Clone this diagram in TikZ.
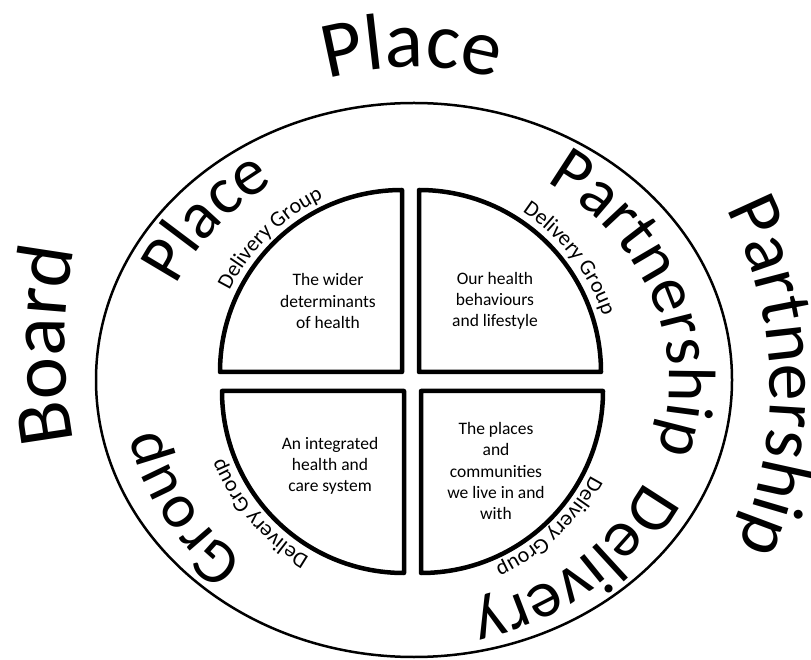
\documentclass[tikz,border=0pt]{standalone}
\usepackage{fontspec}
\setmainfont{Carlito}
\usetikzlibrary{decorations.text}
\newcommand\outerfont{\fontsize{80}{96}\selectfont}
\newcommand\innerfont{\fontsize{67}{80}\selectfont}
\newcommand\smallfont{\fontsize{22}{26}\selectfont}
\newcommand\quadfont{\fontsize{17.5}{21.3}\selectfont}
\tikzset{
  quadline/.style={draw, line width=4.5pt, line join=round},
  rim/.style={draw, line width=2.5pt},
  quadtext/.style={align=center, font=\quadfont, inner sep=0pt},
  curved/.style={decorate, decoration={text along path, text align=center, text={#1}}},
}

\begin{document}
\begin{tikzpicture}[x=1pt, y=1pt]
  \useasboundingbox (0,0) rectangle (811,659);
  \coordinate (o) at (414,279);    % middle of the rim
  \coordinate (c) at (411,277.5);  % middle of the four quarters

  % rim
  \draw[rim] (o) ellipse [x radius=318, y radius=277];

  % four quarters
  \draw[quadline] (402,287) -- ++(-182,0) arc[start angle=180, end angle=90, radius=182] -- cycle;
  \draw[quadline] (419,287) -- ++(0,182) arc[start angle=90, end angle=0, radius=182] -- cycle;
  \draw[quadline] (421,268) -- ++(182,0) arc[start angle=0, end angle=-90, radius=182] -- cycle;
  \draw[quadline] (404,268) -- ++(0,-182) arc[start angle=-90, end angle=-180, radius=182] -- cycle;

  \node[quadtext] (wider) at (328,358) {The wider\\determinants\\of health};
  \node[quadtext] (habits) at (495,358) {Our health\\behaviours\\and lifestyle};
  \node[quadtext] (care) at (330,193) {An integrated\\health and\\care system};
  \node[quadtext] (places) at (496,188) {The places\\and\\communities\\we live in and\\with};

  % outer words
  \path[curved={|\outerfont|Place}] (412,282) ++(120:310)
    arc[start angle=120, end angle=60, radius=310];
  \path[curved={|\outerfont|Board}] (565,314) ++(195:500)
    arc[start angle=195, end angle=165, radius=500];
  \path[curved={|\fontsize{74}{88}\selectfont|Partnership}] (375,269) ++(47:395)
    arc[start angle=47, end angle=-43, radius=395];

  % inner words
  \path[curved={|\innerfont|Place}] (c) ++(182:258 and 234)
    arc[start angle=182, end angle=98, x radius=258, y radius=234];
  \path[curved={|\innerfont|Partnership}] (c) ++(75:258 and 234)
    arc[start angle=75, end angle=-35, x radius=258, y radius=234];
  \path[curved={|\innerfont|Delivery}] (c) ++(-5:258 and 234)
    arc[start angle=-5, end angle=-95, x radius=258, y radius=234];
  \path[curved={|\fontsize{63}{76}\selectfont|Group}] (c) ++(-110:258 and 234)
    arc[start angle=-110, end angle=-190, x radius=258, y radius=234];

  % delivery group labels
  \path[curved={|\smallfont|Delivery Group}] (c) ++(164.5:203) arc[start angle=164.5, end angle=104.5, radius=203];
  \path[curved={|\smallfont|Delivery Group}] (c) ++(67.8:203) arc[start angle=67.8, end angle=7.8, radius=203];
  \path[curved={|\smallfont|Delivery Group}] (c) ++(-16.5:203) arc[start angle=-16.5, end angle=-76.5, radius=203];
  \path[curved={|\smallfont|Delivery Group}] (c) ++(-109:203) arc[start angle=-109, end angle=-169, radius=203];
\end{tikzpicture}
\end{document}
